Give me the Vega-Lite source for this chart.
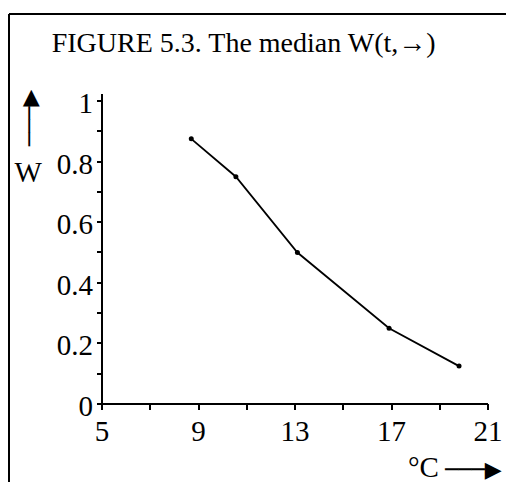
{
  "$schema": "https://vega.github.io/schema/vega-lite/v6.json",
  "width": 386,
  "height": 310,
  "autosize": {"type": "none"},
  "padding": {"left": 102, "top": 94, "right": 18, "bottom": 78},
  "background": "white",
  "config": {
    "view": {"stroke": null},
    "axis": {
      "grid": false,
      "domainColor": "black",
      "tickColor": "black",
      "labelColor": "black",
      "titleColor": "black",
      "labelFont": "Liberation Serif",
      "titleFont": "Liberation Serif",
      "labelFontSize": 29,
      "titleFontSize": 29,
      "titleFontWeight": "normal",
      "domainWidth": 2,
      "tickWidth": 2,
      "translate": 0
    }
  },
  "data": {
    "values": [
      {"t": 8.7, "w": 0.875},
      {"t": 10.55, "w": 0.75},
      {"t": 13.1, "w": 0.5},
      {"t": 16.9, "w": 0.25},
      {"t": 19.8, "w": 0.125}
    ]
  },
  "layer": [
    {
      "mark": {"type": "line", "color": "black", "strokeWidth": 1.8, "point": {"filled": true, "color": "black", "size": 25, "opacity": 1}},
      "encoding": {
        "x": {
          "field": "t", "type": "quantitative",
          "scale": {"domain": [5, 21], "nice": false, "zero": false},
          "axis": {
            "orient": "bottom",
            "values": [5, 7, 9, 11, 13, 15, 17, 19, 21],
            "labelExpr": "(datum.value - 5) % 4 == 0 ? datum.label : ''",
            "tickSize": 6,
            "labelPadding": 8,
            "labelFlush": false,
            "labelOverlap": false,
            "labelBound": false,
            "title": "°C",
            "titleX": 306,
            "titleY": 73,
            "titleAlign": "left",
            "titleBaseline": "alphabetic",
            "titleAnchor": null
          }
        },
        "y": {
          "field": "w", "type": "quantitative",
          "scale": {"domain": [0, 1.0231], "nice": false, "zero": false},
          "axis": {
            "orient": "left",
            "values": [0, 0.1, 0.2, 0.3, 0.4, 0.5, 0.6, 0.7, 0.8, 0.9, 1],
            "labelExpr": "round(datum.value * 10) % 2 == 0 ? format(datum.value, '~g') : ''",
            "tickSize": 5,
            "labelPadding": 4,
            "labelOffset": 3,
            "labelOverlap": false,
            "labelBound": false,
            "labelFlush": false,
            "title": "───▶",
            "titleAngle": 270,
            "titleX": -72,
            "titleY": 24,
            "titleAlign": "center",
            "titleBaseline": "middle",
            "titleFont": "DejaVu Sans",
            "titleFontSize": 22
          }
        }
      }
    },
    {
      "mark": {"type": "point", "opacity": 0},
      "encoding": {
        "x": {
          "field": "t", "type": "quantitative",
          "scale": {"domain": [5, 21], "range": [-93, 420], "nice": false, "zero": false},
          "axis": {
            "orient": "top",
            "offset": 80,
            "ticks": false,
            "labels": false,
            "title": "FIGURE 5.3. The median W(t,→)",
            "titleX": -50.3,
            "titleY": 37.7,
            "titleAlign": "left",
            "titleBaseline": "alphabetic",
            "titleFontSize": 28
          }
        },
        "y": {
          "field": "w", "type": "quantitative",
          "scale": {"domain": [0, 1], "range": [400, -80], "nice": false, "zero": false},
          "axis": {
            "orient": "left",
            "offset": 93,
            "ticks": false,
            "labels": false,
            "title": "W",
            "titleAngle": 0,
            "titleX": 19.3,
            "titleY": 87.7,
            "titleAlign": "center",
            "titleBaseline": "alphabetic"
          }
        }
      }
    },
    {
      "mark": {"type": "point", "opacity": 0},
      "encoding": {
        "x": {
          "field": "t", "type": "quantitative",
          "scale": {"domain": [5, 21], "nice": false, "zero": false},
          "axis": {
            "orient": "bottom",
            "offset": 0,
            "domain": false,
            "ticks": false,
            "labels": false,
            "title": "───▶",
            "titleX": 343,
            "titleY": 72.6,
            "titleAlign": "left",
            "titleBaseline": "alphabetic",
            "titleAnchor": null,
            "titleFont": "DejaVu Sans",
            "titleFontSize": 22
          }
        }
      }
    }
  ],
  "resolve": {
    "scale": {"x": "independent", "y": "independent"},
    "axis": {"x": "independent", "y": "independent"}
  }
}
